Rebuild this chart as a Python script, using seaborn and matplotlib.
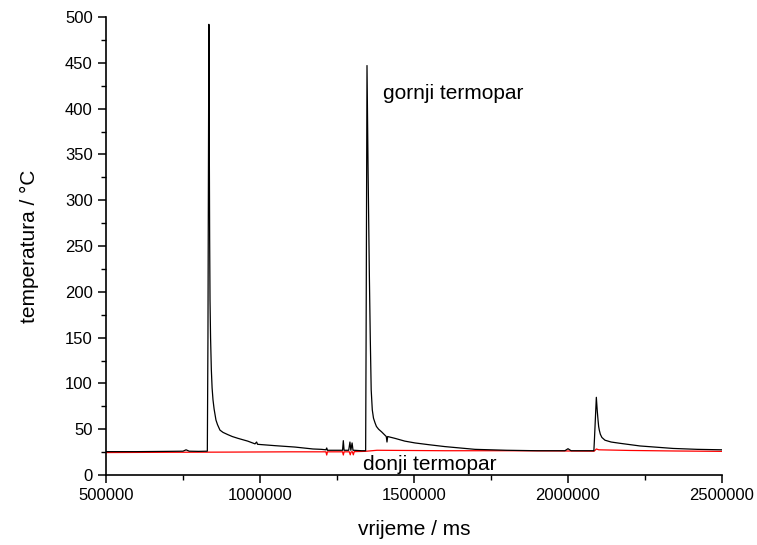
import matplotlib
matplotlib.use("Agg")
import matplotlib.pyplot as plt
import seaborn as sns
import pandas as pd
from matplotlib.ticker import MultipleLocator, AutoMinorLocator

# gornji termopar (upper thermocouple)
upper_x = [500000, 600000, 700000, 750000, 760000, 770000, 800000, 829000, 831000,
           834000, 835500, 836500, 837700, 839500, 842000, 844500, 847400, 851000,
           857000, 862000, 870000, 880000, 896000, 910000,
           928600, 960000, 983800, 989000, 992000, 1050000, 1113600, 1172000, 1200000,
           1214000, 1216600, 1219000, 1240000, 1268000, 1270500, 1273000, 1288000,
           1292000, 1295000, 1299000, 1302000, 1305000, 1330000, 1343000, 1344500,
           1347400, 1351000, 1355000, 1358000, 1361000, 1364600, 1368500, 1373400,
           1378000, 1385000, 1395100,
           1410000, 1412300, 1414500, 1438300, 1470000, 1503200, 1550000, 1600600,
           1698000, 1800000,
           1900000, 1990000, 2000000, 2010000, 2050000, 2084000, 2086000, 2092000,
           2095000, 2097500, 2099500, 2101600, 2105000, 2110000, 2120000, 2140000,
           2168800, 2233800, 2341000, 2420000, 2500000]
upper_y = [25.5, 25.5, 25.8, 26, 27.5, 26, 25.8, 26, 150,
           492, 350, 260, 191, 150, 115, 95, 82, 72,
           60, 55, 49, 46.5, 44, 42,
           40, 37, 34, 36, 33.5, 32, 30.5, 28.4, 28,
           27.5, 29.5, 27, 27, 27, 37.5, 27, 27,
           36, 27, 35, 27, 27, 26.5, 26.5, 150,
           447, 330, 220, 150, 93, 71, 62, 57,
           53, 50, 47,
           42, 36, 42, 40, 37, 35, 33, 31,
           28, 27,
           26.5, 26.5, 28.7, 26.5, 26.5, 26.5, 40, 84.8,
           70, 60, 53, 49, 44.5, 41, 38, 36,
           34.6, 31.7, 29, 28, 27.5]

# donji termopar (lower thermocouple)
lower_x = [500000, 700000, 900000, 1100000, 1214000, 1216600, 1219000, 1268000,
           1270500, 1273000, 1290000, 1293000, 1296000, 1300000, 1303000, 1306000,
           1340000, 1380000, 1600000, 1800000, 2000000, 2085000, 2092000, 2100000,
           2200000, 2350000, 2500000]
lower_y = [24.5, 24.8, 25, 25.3, 25.3, 21.8, 25.3, 25.3,
           21.8, 25.3, 25.3, 22, 25.3, 25.3, 22, 25.5,
           25.8, 27, 26.5, 26.5, 26.2, 26, 28.4, 27.5,
           26.8, 26.2, 25.8]

upper_label = "gornji termopar"
lower_label = "donji termopar"
x_label = "vrijeme / ms"
y_label = "temperatura / °C"

sns.set_style("ticks")
plt.rcParams['font.family'] = ['Liberation Sans', 'DejaVu Sans']
plt.rcParams['text.color'] = 'black'
plt.rcParams['axes.labelcolor'] = 'black'
plt.rcParams['xtick.color'] = 'black'
plt.rcParams['ytick.color'] = 'black'
plt.rcParams['axes.edgecolor'] = 'black'

fig = plt.figure(figsize=(7.57, 5.45), dpi=100)
ax = fig.add_axes([106/757, 1-475/545, (722-106)/757, (475-17)/545])

df_u = pd.DataFrame({"x": upper_x, "y": upper_y})
df_l = pd.DataFrame({"x": lower_x, "y": lower_y})
sns.lineplot(data=df_l, x="x", y="y", ax=ax, color="#ff0000", linewidth=0.9,
             estimator=None, sort=False)
sns.lineplot(data=df_u, x="x", y="y", ax=ax, color="black", linewidth=0.9,
             estimator=None, sort=False)

ax.set_xlim(500000, 2500000)
ax.set_ylim(0, 500)
ax.xaxis.set_major_locator(MultipleLocator(500000))
ax.xaxis.set_minor_locator(AutoMinorLocator(2))
ax.yaxis.set_major_locator(MultipleLocator(50))
ax.yaxis.set_minor_locator(AutoMinorLocator(2))
ax.ticklabel_format(style='plain', axis='x', useOffset=False)

for s in ["top", "right"]:
    ax.spines[s].set_visible(False)
for s in ["left", "bottom"]:
    ax.spines[s].set_linewidth(1.2)
ax.tick_params(axis='both', which='major', length=6, width=1.1, labelsize=12,
               direction='out', colors='black')
ax.tick_params(axis='both', which='minor', length=3.5, width=1.0, direction='out',
               colors='black')

ax.set_xlabel(x_label, fontsize=15, labelpad=12, color='black')
ax.set_ylabel(y_label, fontsize=15, labelpad=19, color='black')

ax.text(1399300, 417, upper_label, fontsize=15, va='center', ha='left', color='black')
ax.text(1334400, 11, lower_label, fontsize=15, va='center', ha='left', color='black')

fig.savefig("out.png", dpi=100)
